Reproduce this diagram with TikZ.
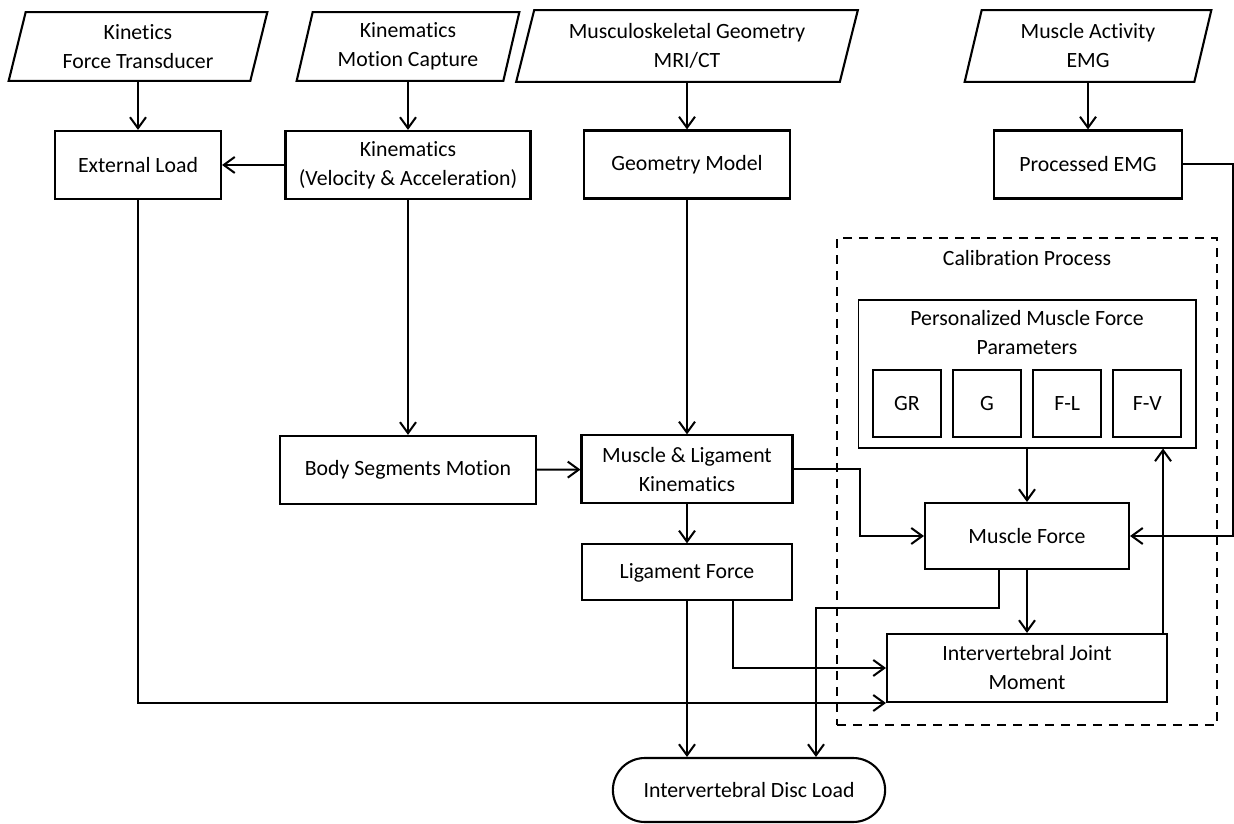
\documentclass[tikz,border=0pt]{standalone}
\usepackage{fontspec}
\setmainfont{Carlito}[RawFeature={-liga;-clig;-calt;-dlig}]
\usetikzlibrary{arrows.meta, positioning, shapes.misc}
\tikzstyle{io} = [rectangle, minimum height=1.36cm, text centered, align=center]
\tikzstyle{ioline} = [draw=black, line width=1.2pt]
\tikzstyle{process} = [rectangle, minimum height=1.36cm, text centered, align=center, draw=black, line width=1.2pt]
\tikzstyle{startstop} = [rounded rectangle, minimum width=5.68cm, minimum height=1.28cm, text centered, draw=black, line width=1.2pt]
\tikzstyle{param} = [rectangle, minimum width=1.36cm, minimum height=1.34cm, draw=black, line width=1.2pt]
\tikzstyle{group} = [rectangle, draw=black, line width=0.6pt]
\tikzstyle{calibbox} = [rectangle, draw=black, line width=1.2pt, dash pattern=on 0.18cm off 0.14cm]
\tikzstyle{arrow} = [line width=1.15pt, -{Straight Barb[length=2.2mm,width=3.2mm]}]

\begin{document}
\begin{tikzpicture}[x=0.02cm, y=-0.02cm, node distance=2.37cm, every node/.style={font=\fontsize{12.4}{16.5}\selectfont}]
\useasboundingbox (0,0) rectangle (1234,824);

% inputs
\node (kinetics) [io, minimum width=5.16cm] at (138,46.5) {Kinetics\\Force Transducer};
\node (motion) [io, minimum width=4.44cm] at (408,46.5) {Kinematics\\Motion Capture};
\node (mri) [io, minimum width=6.82cm, minimum height=1.42cm] at (687,46) {Musculoskeletal Geometry\\MRI/CT};
\node (emg) [io, minimum width=4.92cm, minimum height=1.42cm] at (1088,46) {Muscle Activity\\EMG};
\draw [ioline] ([xshift=0.34cm]kinetics.north west) -- (kinetics.north east) -- ([xshift=-0.34cm]kinetics.south east) -- (kinetics.south west) -- cycle;
\draw [ioline] ([xshift=0.32cm]motion.north west) -- (motion.north east) -- ([xshift=-0.32cm]motion.south east) -- (motion.south west) -- cycle;
\draw [ioline] ([xshift=0.36cm]mri.north west) -- (mri.north east) -- ([xshift=-0.36cm]mri.south east) -- (mri.south west) -- cycle;
\draw [ioline] ([xshift=0.34cm]emg.north west) -- (emg.north east) -- ([xshift=-0.34cm]emg.south east) -- (emg.south west) -- cycle;

% models
\node (ext) [process, minimum width=3.32cm, below of=kinetics] {External Load};
\node (kinva) [process, minimum width=4.9cm, below of=motion] {Kinematics\\(Velocity \& Acceleration)};
\node (geo) [process, minimum width=4.12cm, below of=mri] {Geometry Model};
\node (pemg) [process, minimum width=3.76cm, below of=emg] {Processed EMG};
\node (body) [process, minimum width=5.12cm, below of=kinva, yshift=-3.73cm] {Body Segments Motion};
\node (mlk) [process, minimum width=4.22cm, below of=geo, yshift=-3.73cm] {Muscle \& Ligament\\Kinematics};
\node (lig) [process, minimum width=4.2cm, minimum height=1.12cm, below of=mlk, yshift=0.31cm] {Ligament Force};
\node (disc) [startstop] at (749,790) {Intervertebral Disc Load};

% calibration
\node (calib) [calibbox, minimum width=7.6cm, minimum height=9.74cm] at (1027,481.5) {};
\node (calibtxt) at (1027,258) {Calibration Process};
\node (pers) [group, minimum width=6.76cm, minimum height=2.96cm] at (1027,374) {};
\node (perstxt) [align=center] at (1027,333) {Personalized Muscle Force\\Parameters};
\node (gr) [param] at (907,403.5) {GR};
\node (g) [param, right=0.2cm of gr] {G};
\node (fl) [param, right=0.2cm of g] {F-L};
\node (fv) [param, right=0.2cm of fl] {F-V};
\node (mf) [process, minimum width=4.08cm, minimum height=1.32cm] at (1027,536) {Muscle Force};
\node (ijm) [process, minimum width=5.6cm, below of=mf, yshift=-0.27cm] {Intervertebral Joint\\Moment};
\coordinate (edge) at (1233,0);
\coordinate (mfturn) at (816,608);
\coordinate (up) at ([xshift=-0.1cm]ijm.north east);

% arrows
\draw [arrow] (kinetics) -- (ext);
\draw [arrow] (motion) -- (kinva);
\draw [arrow] (mri) -- (geo);
\draw [arrow] (emg) -- (pemg);
\draw [arrow] (kinva) -- (ext);
\draw [arrow] (kinva) -- (body);
\draw [arrow] (geo) -- (mlk);
\draw [arrow] (body) -- (mlk);
\draw [arrow] (mlk) -- (lig);
\draw [arrow] (mlk.east) -- ++(66,0) |- (mf.west);
\draw [arrow] (pemg.east) -- (pemg.east -| edge) |- (mf.east);
\draw [arrow] (pers) -- (mf);
\draw [arrow] (mf) -- (ijm);
\draw [arrow] (up) -- (up |- pers.south);
\draw [arrow] ([xshift=-0.56cm]mf.south) |- (mfturn) -- (mfturn |- disc.north);
\draw [arrow] (lig.south) -- (lig.south |- disc.north);
\draw [arrow] ([xshift=0.92cm]lig.south) |- (ijm.west);
\draw [arrow] (ext.south) |- (ijm.south west);
\end{tikzpicture}
\end{document}
